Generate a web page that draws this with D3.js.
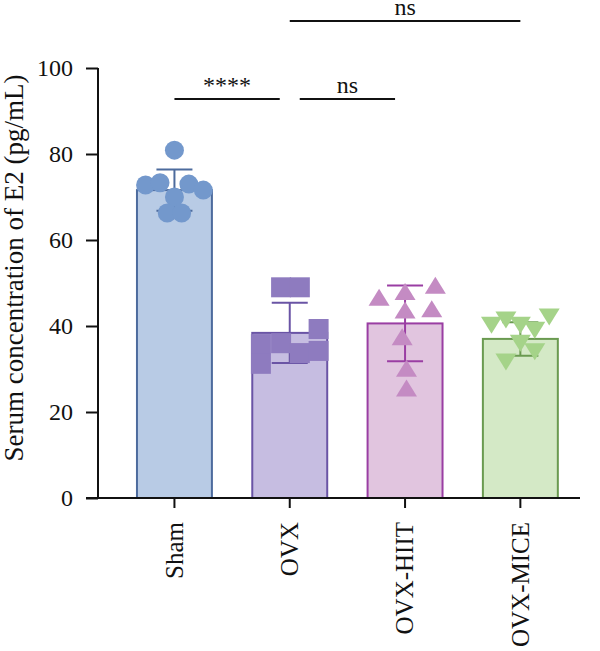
<!DOCTYPE html>
<html><head><meta charset="utf-8">
<script src="https://cdn.jsdelivr.net/npm/d3@7"></script>
<style>body{margin:0;background:#fff}svg{display:block}text{font-family:"Liberation Serif","DejaVu Serif",serif;fill:#111}</style>
</head><body><div id="chart"></div>
<script>
const categories = ["Sham","OVX","OVX-HIIT","OVX-MICE"];
const means = [71.6, 38.4, 40.6, 37.0];
const sds = [4.8, 7.0, 8.8, 3.9];
const shamValues = [72.8, 73.3, 80.9, 73.0, 71.6, 70.0, 66.3, 66.3];
const shamSlots  = [-2, -1, 0, 1, 2, 0, -0.5, 0.5];
const ovxValues  = [49.0, 49.0, 39.3, 35.8, 36.0, 33.7, 34.2, 31.2];
const ovxSlots   = [-0.6, 0.7, 2, -2, -0.6, 0.7, 2, -2];
const hiitValues = [46.7, 48.0, 49.5, 43.7, 44.0, 37.5, 30.2, 25.6];
const hiitSlots  = [-1.8, 0, 2.1, 0, 1.85, -0.2, 0.1, 0.1];
const miceValues = [40.2, 41.4, 40.2, 39.0, 42.1, 36.0, 34.0, 31.6];
const miceSlots  = [-2, -1, 0, 1, 2, 0, 1, -1];
const yTicks = [0, 20, 40, 60, 80, 100];
const comparisons = [
  {from: "Sham", to: "OVX", label: "****", level: 0},
  {from: "OVX", to: "OVX-HIIT", label: "ns", level: 0},
  {from: "OVX", to: "OVX-MICE", label: "ns", level: 1}
];
const yLabel = "Serum concentration of E2 (pg/mL)";

const fills   = ["#b8cbe5", "#c6bde1", "#e1c5df", "#d4e9c6"];
const strokes = ["#4d6b9d", "#6a54a5", "#9a3ea3", "#6a9a50"];
const ptCols  = ["#7398cc", "#8e7bbf", "#c48bc3", "#a5d389"];
const shapes  = ["circle", "square", "up", "down"];
const groups = [
  {values: shamValues, slots: shamSlots},
  {values: ovxValues, slots: ovxSlots},
  {values: hiitValues, slots: hiitSlots},
  {values: miceValues, slots: miceSlots}
];

const W = 600, H = 651;
const svg = d3.select("#chart").append("svg").attr("width", W).attr("height", H);

const axisX0 = 98, axisBottom = 498;
const y = d3.scaleLinear().domain([0, 100]).range([498, 68]);
const x = d3.scaleBand().domain(categories).range([121.4, 573.4]).paddingInner(0.35).paddingOuter(0.135);
const bw = x.bandwidth();
const slotX = d3.scaleLinear().domain([-2, 2]).range([-bw * 0.385, bw * 0.385]);
const cx = c => x(c) + bw / 2;

// bars
const g = svg.append("g");
categories.forEach((c, i) => {
  g.append("rect").attr("x", x(c)).attr("y", y(means[i]))
    .attr("width", bw).attr("height", y(0) - y(means[i]))
    .attr("fill", fills[i]).attr("stroke", strokes[i]).attr("stroke-width", 2);
});
// error bars
categories.forEach((c, i) => {
  const hi = y(means[i] + sds[i]), lo = y(means[i] - sds[i]), xc = cx(c);
  g.append("line").attr("x1", xc).attr("x2", xc).attr("y1", hi).attr("y2", lo)
    .attr("stroke", strokes[i]).attr("stroke-width", 2);
  [hi, lo].forEach(yy => g.append("line").attr("x1", xc - 18).attr("x2", xc + 18)
    .attr("y1", yy).attr("y2", yy).attr("stroke", strokes[i]).attr("stroke-width", 2));
});
// points
function shapePath(s) {
  if (s === "square") return "M-10,-10H10V10H-10Z";
  if (s === "up") return "M0,-8.5L10.5,8.5L-10.5,8.5Z";
  if (s === "down") return "M0,8.5L10.5,-8.5L-10.5,-8.5Z";
  return null;
}
categories.forEach((c, i) => {
  const gr = groups[i];
  gr.values.forEach((v, j) => {
    const px = cx(c) + slotX(gr.slots[j]), py = y(v);
    if (shapes[i] === "circle") {
      g.append("circle").attr("cx", px).attr("cy", py).attr("r", 9.5).attr("fill", ptCols[i]);
    } else {
      g.append("path").attr("d", shapePath(shapes[i])).attr("transform", `translate(${px},${py})`)
        .attr("fill", ptCols[i]);
    }
  });
});

// y axis
const yAxis = d3.axisLeft(y).tickValues(yTicks).tickSize(12).tickPadding(13);
const ya = svg.append("g").attr("transform", `translate(${axisX0},0)`).call(yAxis);
ya.select(".domain").attr("d", `M0,${y(100)}V${y(0)}`).attr("stroke", "#111").attr("stroke-width", 2);
ya.selectAll(".tick line").attr("stroke", "#111").attr("stroke-width", 2);
ya.selectAll("text").attr("font-size", 24).attr("fill", "#111");

// x axis
const xAxis = d3.axisBottom(x).tickSize(10).tickPadding(13);
const xa = svg.append("g").attr("transform", `translate(0,${axisBottom})`).call(xAxis);
xa.select(".domain").attr("d", `M${axisX0 - 12},0H580`).attr("stroke", "#111").attr("stroke-width", 2);
xa.selectAll(".tick line").attr("stroke", "#111").attr("stroke-width", 2);
xa.selectAll("text").attr("font-size", 25).attr("fill", "#111")
  .attr("transform", "rotate(-90)").attr("text-anchor", "end")
  .attr("x", -24).attr("y", 0).attr("dy", "0.33em");

// y label
svg.append("text").attr("transform", `translate(23,268) rotate(-90)`)
  .attr("text-anchor", "middle").attr("font-size", 27).text(yLabel);

// significance
const levelY = [99, 21];
comparisons.forEach(cmp => {
  let x1 = cx(cmp.from), x2 = cx(cmp.to);
  if (cmp.level === 0) {
    if (cmp.from !== "Sham") x1 += 10;
    x2 -= 10;
  }
  const yy = levelY[cmp.level];
  svg.append("line").attr("x1", x1).attr("x2", x2).attr("y1", yy).attr("y2", yy)
    .attr("stroke", "#111").attr("stroke-width", 2);
  svg.append("text").attr("x", (x1 + x2) / 2).attr("y", yy - 6).attr("text-anchor", "middle")
    .attr("font-size", 24).text(cmp.label);
});
</script></body></html>
